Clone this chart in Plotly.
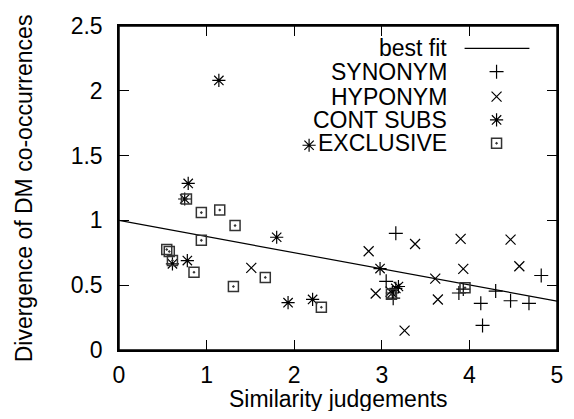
import plotly.graph_objects as go

# ---- data ----
syn_x = [3.16, 4.82, 3.05, 3.13, 3.88, 3.93, 4.30, 4.13, 4.47, 4.68, 4.15]
syn_y = [0.90, 0.575, 0.53, 0.40, 0.44, 0.47, 0.455, 0.36, 0.38, 0.36, 0.19]

hyp_x = [1.51, 2.85, 3.38, 3.90, 4.47, 3.93, 4.57, 3.61, 2.93, 3.10, 3.64, 3.26]
hyp_y = [0.634, 0.762, 0.818, 0.857, 0.852, 0.626, 0.646, 0.551, 0.436, 0.45, 0.39, 0.15]

cont_x = [1.14, 2.17, 0.79, 0.75, 1.80, 0.61, 0.78, 1.93, 2.21, 2.98, 3.12, 3.16, 3.19]
cont_y = [2.08, 1.58, 1.285, 1.165, 0.87, 0.665, 0.69, 0.365, 0.39, 0.628, 0.44, 0.475, 0.49]

excl_x = [0.77, 0.94, 1.15, 1.325, 0.94, 0.545, 0.574, 0.61, 0.856, 1.306, 1.67, 2.31, 3.11, 3.95]
excl_y = [1.165, 1.06, 1.08, 0.96, 0.846, 0.775, 0.76, 0.69, 0.60, 0.49, 0.56, 0.33, 0.43, 0.48]

fit_x = [0, 5]
fit_y = [1.0, 0.377]

legend_labels = ["best fit", "SYNONYM", "HYPONYM", "CONT SUBS", "EXCLUSIVE"]
x_ticks = [0, 1, 2, 3, 4, 5]
y_ticks = [0, 0.5, 1, 1.5, 2, 2.5]
X_RANGE = [0, 5]
Y_RANGE = [0, 2.5]

FONT = "Liberation Sans, Arial, sans-serif"
FS = 23
BLACK = "#000000"
SQ = "#333333"

sym_specs = [("cross-thin-open", 10, BLACK, 1.2), ("x-thin-open", 10, BLACK, 1.2),
             ("asterisk-open", 11, BLACK, 1.2), ("square-open-dot", 10, SQ, 1.5)]

fig = go.Figure()

fig.add_trace(go.Scatter(x=fit_x, y=fit_y, mode="lines",
                         line=dict(color=BLACK, width=1.2), showlegend=False))
for (sym, sz, col, w), xs, ys in zip(sym_specs, [syn_x, hyp_x, cont_x, excl_x],
                                     [syn_y, hyp_y, cont_y, excl_y]):
    fig.add_trace(go.Scatter(x=xs, y=ys, mode="markers", showlegend=False,
                             marker=dict(symbol=sym, size=sz, color=col,
                                         line=dict(color=col, width=w))))

# ---- manual gnuplot-style legend (text right, sample left) ----
def fx(f):
    return X_RANGE[0] + f * (X_RANGE[1] - X_RANGE[0])

def fy(f):
    return Y_RANGE[0] + f * (Y_RANGE[1] - Y_RANGE[0])

leg_y = [0.931, 0.859, 0.782, 0.710, 0.638]  # fractions of plot height
leg_text_x = 0.752
leg_sym_x = 0.862
fig.add_trace(go.Scatter(x=[fx(0.789), fx(0.937)], y=[fy(leg_y[0])] * 2, mode="lines",
                         showlegend=False, line=dict(color=BLACK, width=1.2)))
for (sym, sz, col, w), yy in zip(sym_specs, leg_y[1:]):
    fig.add_trace(go.Scatter(x=[fx(leg_sym_x)], y=[fy(yy)], mode="markers",
                             showlegend=False,
                             marker=dict(symbol=sym, size=sz, color=col,
                                         line=dict(color=col, width=w))))
for lab, yy in zip(legend_labels, leg_y):
    fig.add_annotation(text=lab, x=leg_text_x, y=yy, xref="paper", yref="paper",
                       xanchor="right", yanchor="middle", showarrow=False,
                       height=22, valign="middle", borderpad=0,
                       font=dict(family=FONT, size=FS, color=BLACK))

# axis titles
fig.add_annotation(text="Divergence of DM co-occurrences", x=-0.2162, y=0.5,
                   xref="paper", yref="paper", textangle=-90, showarrow=False,
                   xanchor="center", yanchor="middle",
                   font=dict(family=FONT, size=FS, color=BLACK))
fig.add_annotation(text="Similarity judgements", x=0.5, y=-0.150,
                   xref="paper", yref="paper", showarrow=False,
                   xanchor="center", yanchor="middle",
                   font=dict(family=FONT, size=FS, color=BLACK))

# plot frame
fig.add_shape(type="rect", xref="paper", yref="paper", x0=0, y0=0, x1=1, y1=1,
              line=dict(color=BLACK, width=1.5), layer="above")

axis_common = dict(showgrid=False, zeroline=False, showline=True, linecolor=BLACK,
                   linewidth=1.5, mirror="ticks", ticks="inside", ticklen=10,
                   tickwidth=1.2, tickcolor=BLACK, ticklabeloverflow="allow",
                   tickfont=dict(family=FONT, size=FS, color=BLACK))

# page adds an 8px body margin around the figure: 558+16=574, 403+16=419
fig.update_layout(
    width=558, height=403, autosize=False,
    margin=dict(l=111, r=3, t=18, b=61),
    paper_bgcolor="white", plot_bgcolor="white",
    font=dict(family=FONT, size=FS, color=BLACK),
    xaxis=dict(range=X_RANGE, tickvals=x_ticks, ticktext=[str(v) for v in x_ticks],
               ticklabelstandoff=4, **axis_common),
    yaxis=dict(range=Y_RANGE, tickvals=y_ticks, ticktext=[f"{v:g}" for v in y_ticks],
               ticklabelstandoff=10, **axis_common),
)

fig.write_html("out.html")
